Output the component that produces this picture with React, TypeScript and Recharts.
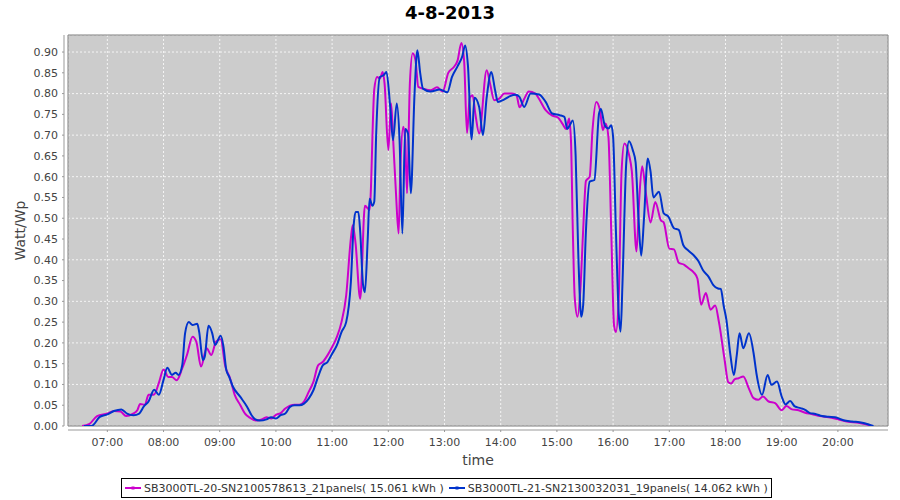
import { LineChart, Line, XAxis, YAxis, CartesianGrid, ReferenceArea } from "recharts";

// time (HH:MM), Watt/Wp
const sn2100578613: [string, number][] = [
  ["06:33", 0], ["06:41", 0.005], ["06:49", 0.024], ["07:00", 0.03], ["07:07", 0.036], ["07:14", 0.035],
  ["07:20", 0.024], ["07:27", 0.029], ["07:32", 0.038], ["07:35", 0.053], ["07:40", 0.051], ["07:44", 0.075],
  ["07:50", 0.076], ["07:55", 0.104], ["08:00", 0.136], ["08:05", 0.118], ["08:09", 0.118], ["08:14", 0.11],
  ["08:20", 0.139], ["08:25", 0.171], ["08:31", 0.215], ["08:35", 0.203], ["08:40", 0.143], ["08:46", 0.187],
  ["08:51", 0.171], ["08:56", 0.203], ["09:01", 0.209], ["09:06", 0.143], ["09:11", 0.115], ["09:16", 0.075],
  ["09:22", 0.05], ["09:27", 0.03], ["09:32", 0.02], ["09:40", 0.013], ["09:47", 0.018], ["09:50", 0.021],
  ["09:55", 0.018], ["10:00", 0.027], ["10:05", 0.031], ["10:10", 0.042], ["10:15", 0.049], ["10:20", 0.051],
  ["10:25", 0.051], ["10:30", 0.059], ["10:35", 0.082], ["10:40", 0.106], ["10:45", 0.146], ["10:50", 0.154],
  ["10:55", 0.17], ["11:00", 0.19], ["11:05", 0.214], ["11:10", 0.25], ["11:15", 0.314], ["11:20", 0.451],
  ["11:22", 0.483], ["11:25", 0.44], ["11:30", 0.306], ["11:35", 0.53], ["11:40", 0.52], ["11:45", 0.81],
  ["11:48", 0.84], ["11:51", 0.836], ["11:54", 0.852], ["11:56", 0.824], ["12:00", 0.664], ["12:03", 0.776],
  ["12:05", 0.696], ["12:08", 0.568], ["12:11", 0.463], ["12:13", 0.632], ["12:16", 0.72], ["12:18", 0.688],
  ["12:20", 0.56], ["12:23", 0.824], ["12:26", 0.897], ["12:29", 0.88], ["12:32", 0.816], ["12:37", 0.812],
  ["12:45", 0.808], ["12:52", 0.815], ["12:58", 0.805], ["13:04", 0.85], ["13:10", 0.864], ["13:14", 0.88],
  ["13:18", 0.922], ["13:21", 0.876], ["13:24", 0.705], ["13:27", 0.79], ["13:30", 0.796], ["13:33", 0.75],
  ["13:37", 0.704], ["13:45", 0.856], ["13:49", 0.82], ["13:53", 0.784], ["13:58", 0.787], ["14:04", 0.8],
  ["14:12", 0.8], ["14:17", 0.795], ["14:20", 0.767], ["14:25", 0.787], ["14:30", 0.805], ["14:37", 0.8],
  ["14:41", 0.787], ["14:48", 0.76], ["14:55", 0.747], ["15:01", 0.743], ["15:06", 0.727], ["15:10", 0.715],
  ["15:13", 0.74], ["15:15", 0.688], ["15:17", 0.47], ["15:19", 0.31], ["15:22", 0.263], ["15:25", 0.327],
  ["15:28", 0.47], ["15:31", 0.59], ["15:35", 0.6], ["15:38", 0.712], ["15:42", 0.78], ["15:46", 0.76],
  ["15:49", 0.712], ["15:52", 0.728], ["15:55", 0.696], ["15:58", 0.47], ["16:01", 0.242], ["16:03", 0.226],
  ["16:06", 0.31], ["16:09", 0.61], ["16:12", 0.68], ["16:17", 0.653], ["16:20", 0.613], ["16:25", 0.42],
  ["16:28", 0.55], ["16:31", 0.625], ["16:35", 0.56], ["16:40", 0.49], ["16:45", 0.539], ["16:51", 0.495],
  ["16:54", 0.49], ["17:00", 0.427], ["17:05", 0.425], ["17:10", 0.393], ["17:16", 0.388], ["17:21", 0.379],
  ["17:26", 0.37], ["17:30", 0.355], ["17:34", 0.292], ["17:39", 0.32], ["17:44", 0.28], ["17:49", 0.29],
  ["17:53", 0.25], ["17:59", 0.16], ["18:03", 0.105], ["18:06", 0.102], ["18:10", 0.113], ["18:14", 0.115],
  ["18:19", 0.119], ["18:25", 0.09], ["18:30", 0.067], ["18:35", 0.063], ["18:40", 0.071], ["18:46", 0.059],
  ["18:53", 0.055], ["19:00", 0.038], ["19:05", 0.048], ["19:11", 0.04], ["19:18", 0.038], ["19:25", 0.032],
  ["19:32", 0.029], ["19:41", 0.024], ["19:50", 0.021], ["20:00", 0.016], ["20:11", 0.01], ["20:22", 0.008],
  ["20:32", 0.003], ["20:36", 0],
];

const sn2130032031: [string, number][] = [
  ["06:35", 0], ["06:43", 0], ["06:52", 0.022], ["07:00", 0.028], ["07:07", 0.036], ["07:15", 0.04],
  ["07:21", 0.03], ["07:28", 0.026], ["07:34", 0.03], ["07:39", 0.047], ["07:44", 0.059], ["07:50", 0.087],
  ["07:55", 0.075], ["08:00", 0.111], ["08:04", 0.14], ["08:09", 0.123], ["08:13", 0.128], ["08:16", 0.123],
  ["08:20", 0.147], ["08:23", 0.223], ["08:27", 0.25], ["08:31", 0.243], ["08:36", 0.246], ["08:38", 0.227],
  ["08:42", 0.159], ["08:44", 0.167], ["08:48", 0.241], ["08:52", 0.223], ["08:55", 0.195], ["09:01", 0.217],
  ["09:04", 0.191], ["09:07", 0.135], ["09:10", 0.119], ["09:14", 0.095], ["09:22", 0.07], ["09:29", 0.047],
  ["09:34", 0.026], ["09:38", 0.016], ["09:43", 0.013], ["09:50", 0.016], ["09:55", 0.021], ["10:00", 0.018],
  ["10:05", 0.026], ["10:10", 0.03], ["10:15", 0.046], ["10:20", 0.05], ["10:25", 0.05], ["10:30", 0.054],
  ["10:35", 0.066], ["10:40", 0.086], ["10:45", 0.118], ["10:50", 0.146], ["10:55", 0.154], ["11:00", 0.174],
  ["11:05", 0.194], ["11:10", 0.226], ["11:15", 0.25], ["11:20", 0.346], ["11:23", 0.483], ["11:25", 0.515],
  ["11:28", 0.515], ["11:30", 0.467], ["11:33", 0.34], ["11:35", 0.322], ["11:38", 0.45], ["11:40", 0.547],
  ["11:43", 0.53], ["11:45", 0.54], ["11:47", 0.7], ["11:51", 0.84], ["11:55", 0.844], ["11:58", 0.852],
  ["12:02", 0.768], ["12:05", 0.688], ["12:09", 0.776], ["12:12", 0.688], ["12:15", 0.463], ["12:18", 0.715],
  ["12:21", 0.704], ["12:24", 0.56], ["12:28", 0.8], ["12:31", 0.904], ["12:34", 0.85], ["12:37", 0.812],
  ["12:45", 0.805], ["12:55", 0.81], ["13:03", 0.803], ["13:08", 0.84], ["13:14", 0.866], ["13:19", 0.89],
  ["13:22", 0.916], ["13:25", 0.868], ["13:29", 0.69], ["13:32", 0.79], ["13:37", 0.768], ["13:41", 0.7],
  ["13:45", 0.79], ["13:50", 0.852], ["13:54", 0.808], ["13:57", 0.78], ["14:03", 0.785], ["14:10", 0.794],
  ["14:16", 0.797], ["14:20", 0.792], ["14:25", 0.768], ["14:32", 0.8], ["14:41", 0.798], ["14:48", 0.78],
  ["14:55", 0.752], ["15:03", 0.748], ["15:08", 0.744], ["15:11", 0.715], ["15:14", 0.725], ["15:17", 0.735],
  ["15:20", 0.65], ["15:23", 0.4], ["15:26", 0.263], ["15:28", 0.29], ["15:31", 0.47], ["15:35", 0.588],
  ["15:40", 0.592], ["15:45", 0.752], ["15:47", 0.763], ["15:51", 0.724], ["15:55", 0.716], ["15:58", 0.724],
  ["16:00", 0.696], ["16:03", 0.47], ["16:06", 0.27], ["16:08", 0.227], ["16:10", 0.343], ["16:14", 0.632],
  ["16:17", 0.685], ["16:21", 0.664], ["16:24", 0.635], ["16:27", 0.505], ["16:30", 0.41], ["16:33", 0.5],
  ["16:37", 0.644], ["16:40", 0.612], ["16:43", 0.55], ["16:49", 0.564], ["16:54", 0.512], ["16:59", 0.504],
  ["17:05", 0.476], ["17:10", 0.472], ["17:15", 0.435], ["17:20", 0.423], ["17:26", 0.411], ["17:31", 0.397],
  ["17:36", 0.375], ["17:42", 0.359], ["17:47", 0.339], ["17:52", 0.331], ["17:55", 0.33], ["17:58", 0.29],
  ["18:01", 0.255], ["18:05", 0.175], ["18:09", 0.123], ["18:12", 0.17], ["18:15", 0.223], ["18:19", 0.187],
  ["18:25", 0.223], ["18:30", 0.175], ["18:33", 0.127], ["18:39", 0.075], ["18:45", 0.123], ["18:49", 0.099],
  ["18:55", 0.107], ["19:00", 0.071], ["19:04", 0.052], ["19:09", 0.06], ["19:14", 0.047], ["19:20", 0.043],
  ["19:25", 0.039], ["19:30", 0.031], ["19:36", 0.029], ["19:43", 0.024], ["19:50", 0.022], ["19:57", 0.021],
  ["20:06", 0.014], ["20:15", 0.011], ["20:26", 0.008], ["20:35", 0.002], ["20:38", 0],
];

const hourTicks = [
  "07:00", "08:00", "09:00", "10:00", "11:00", "12:00", "13:00",
  "14:00", "15:00", "16:00", "17:00", "18:00", "19:00", "20:00",
];
const yTicks = [0, 0.05, 0.1, 0.15, 0.2, 0.25, 0.3, 0.35, 0.4, 0.45, 0.5, 0.55, 0.6, 0.65, 0.7, 0.75, 0.8, 0.85, 0.9];

const seriesNames = [
  "SB3000TL-20-SN2100578613_21panels( 15.061 kWh )",
  "SB3000TL-21-SN2130032031_19panels( 14.062 kWh )",
];
const seriesColors = ["#cc00cc", "#0033cc"];

const X_MIN = 378; // 06:18
const X_MAX = 1253.5; // ~20:53
const Y_MAX = 0.941;

const toMin = (s: string) => {
  const [h, m] = s.split(":").map(Number);
  return h * 60 + m;
};
const fmtTime = (v: number) => {
  const h = Math.floor(v / 60);
  const m = Math.round(v - h * 60);
  return `${String(h).padStart(2, "0")}:${String(m).padStart(2, "0")}`;
};

const magentaData = sn2100578613.map(([t, v]) => ({ t: toMin(t), v }));
const blueData = sn2130032031.map(([t, v]) => ({ t: toMin(t), v }));

const font = "'DejaVu Sans', Verdana, sans-serif";
const tickStyle = { fontSize: 11, fill: "#444444", fontFamily: font };

const LegendMarker = ({ color }: { color: string }) => (
  <svg width={18} height={8} style={{ marginRight: 2 }}>
    <line x1={1} y1={4} x2={17} y2={4} stroke={color} strokeWidth={2} />
    <rect x={7.5} y={2.5} width={3} height={3} fill={color} />
  </svg>
);

export default function App() {
  return (
    <div style={{ position: "absolute", left: 0, top: 0, width: 900, height: 500, background: "#fff" }}>
      <div
        style={{
          position: "absolute",
          top: 2,
          left: 0,
          width: 900,
          textAlign: "center",
          fontFamily: font,
          fontWeight: "bold",
          fontSize: 18,
          lineHeight: "22px",
          color: "#000",
        }}
      >
        4-8-2013
      </div>
      <LineChart width={900} height={500} margin={{ top: 35, right: 12, bottom: 44, left: 8 }}>
        <CartesianGrid fill="#cccccc" stroke="#f4f4f4" strokeDasharray="2 2" />
        <XAxis
          type="number"
          dataKey="t"
          domain={[X_MIN, X_MAX]}
          ticks={hourTicks.map(toMin)}
          tickFormatter={fmtTime}
          allowDataOverflow
          height={30}
          tick={tickStyle}
          tickSize={2}
          tickMargin={10}
          axisLine={{ stroke: "#999999", transform: "translate(0,4)" }}
          tickLine={{ stroke: "#999999", transform: "translate(0,4)" }}
          label={{
            content: (p: any) => {
              const vb = p.viewBox;
              return (
                <text
                  x={vb.x + vb.width / 2}
                  y={vb.y + 34}
                  textAnchor="middle"
                  dominantBaseline="central"
                  style={{ fontSize: 14, fill: "#444444", fontFamily: font }}
                >
                  time
                </text>
              );
            },
          }}
        />
        <YAxis
          type="number"
          domain={[0, Y_MAX]}
          ticks={yTicks}
          tickFormatter={(v: number) => v.toFixed(2)}
          allowDataOverflow
          width={60}
          tick={tickStyle}
          tickSize={2}
          tickMargin={8}
          axisLine={{ stroke: "#999999", transform: "translate(-4,0)" }}
          tickLine={{ stroke: "#999999", transform: "translate(-4,0)" }}
          label={{
            content: (p: any) => {
              const vb = p.viewBox;
              const cx = vb.x + 12;
              const cy = vb.y + vb.height / 2;
              return (
                <text
                  x={cx}
                  y={cy}
                  textAnchor="middle"
                  dominantBaseline="central"
                  transform={`rotate(-90 ${cx} ${cy})`}
                  style={{ fontSize: 14, fill: "#444444", fontFamily: font }}
                >
                  Watt/Wp
                </text>
              );
            },
          }}
        />
        <Line
          data={magentaData}
          dataKey="v"
          name={seriesNames[0]}
          type="monotone"
          stroke={seriesColors[0]}
          strokeWidth={2}
          dot={false}
          isAnimationActive={false}
        />
        <Line
          data={blueData}
          dataKey="v"
          name={seriesNames[1]}
          type="monotone"
          stroke={seriesColors[1]}
          strokeWidth={2}
          dot={false}
          isAnimationActive={false}
        />
        <ReferenceArea x1={X_MIN} x2={X_MAX} y1={0} y2={Y_MAX} fill="none" stroke="#808080" strokeWidth={1} />
      </LineChart>
      <div
        style={{
          position: "absolute",
          left: 121,
          top: 478,
          height: 18,
          border: "1px solid #000",
          display: "flex",
          alignItems: "center",
          padding: "0 3px 0 2px",
          fontFamily: font,
          fontSize: 11,
          color: "#333333",
          whiteSpace: "nowrap",
          background: "#fff",
        }}
      >
        {seriesNames.map((n, i) => (
          <span key={n} style={{ display: "flex", alignItems: "center", marginRight: i === 0 ? 4 : 0 }}>
            <LegendMarker color={seriesColors[i]} />
            {n}
          </span>
        ))}
      </div>
    </div>
  );
}
